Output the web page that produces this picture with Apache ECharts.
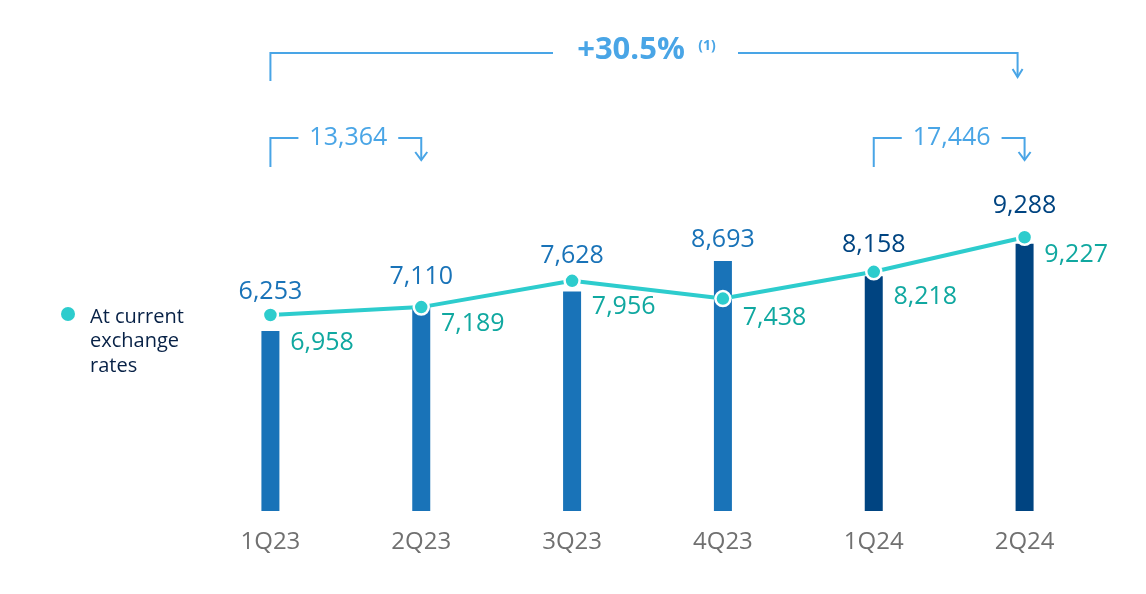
<!DOCTYPE html>
<html>
<head>
<meta charset="utf-8">
<script src="https://cdn.jsdelivr.net/npm/echarts@6/dist/echarts.min.js"></script>
<style>
  html, body { margin: 0; background: #fff; }
  #chart { width: 1146px; height: 594px; }
</style>
</head>
<body>
<div id="chart"></div>
<script>
// data
const quarters = ['1Q23', '2Q23', '3Q23', '4Q23', '1Q24', '2Q24'];
const constantFx = [6253, 7110, 7628, 8693, 8158, 9288];
const currentFx = [6958, 7189, 7956, 7438, 8218, 9227];
const halfYearTotals = ['13,364', '17,446'];
const growthText = '+30.5%';
const noteMark = '(1)';
const legendText = 'At current\nexchange\nrates';

// styling
const blue2023 = '#1973B8';
const navy2024 = '#004481';
const aqua = '#2DCCCD';
const aquaText = '#10A8A0';
const bracketBlue = '#49A5E6';
const labelGap = [27, 17, 23, 9, 19, 25];     // keeps bar labels clear of the line dots
const lineLabelDy = [28, 17, 26, 19, 25, 18]; // vertical shift of the line labels

const fmt = v => v.toLocaleString('en-US');
const chart = echarts.init(document.getElementById('chart'));

const option = {
  animation: false,
  textStyle: { fontFamily: '"Open Sans", sans-serif' },
  grid: { left: 195, right: 46, top: 100, bottom: 83 },
  xAxis: {
    type: 'category',
    data: quarters,
    axisLine: { show: false },
    axisTick: { show: false },
    axisLabel: { color: '#707070', fontSize: 24, margin: 19 }
  },
  yAxis: [
    { type: 'value', min: 0, max: 14286, show: false, splitLine: { show: false } },
    { type: 'value', min: 1245, max: 13227, show: false, splitLine: { show: false } }
  ],
  series: [
    {
      type: 'bar',
      barWidth: 18,
      data: constantFx.map((v, i) => ({
        value: v,
        itemStyle: { color: quarters[i].endsWith('24') ? navy2024 : blue2023 },
        label: {
          show: true,
          position: 'top',
          distance: labelGap[i],
          color: quarters[i].endsWith('24') ? navy2024 : blue2023,
          fontSize: 25,
          formatter: p => fmt(p.value)
        }
      }))
    },
    {
      name: 'At current exchange rates',
      type: 'line',
      yAxisIndex: 1,
      data: currentFx.map((v, i) => ({
        value: v,
        label: { offset: [6, lineLabelDy[i]] }
      })),
      symbol: 'circle',
      symbolSize: 15,
      lineStyle: { color: aqua, width: 4 },
      itemStyle: { color: aqua, borderColor: '#fff', borderWidth: 2.5 },
      label: {
        show: true,
        position: 'right',
        color: aquaText,
        fontSize: 25,
        formatter: p => fmt(p.value)
      },
      z: 5
    }
  ]
};
chart.setOption(option);

// annotation brackets, placed from the category positions
const xs = quarters.map(q => chart.convertToPixel({ xAxisIndex: 0 }, q));
const line = (pts) => ({
  type: 'polyline',
  shape: { points: pts },
  style: { stroke: bracketBlue, lineWidth: 2, fill: null }
});
const txt = (x, y, text, size, weight) => ({
  type: 'text',
  x: x, y: y,
  style: {
    text: text, fill: bracketBlue, fontSize: size, fontWeight: weight,
    fontFamily: '"Open Sans", sans-serif',
    textAlign: 'center', textVerticalAlign: 'middle'
  }
});
const bracket = (a, b, label) => {
  const y = 138;
  return [
    line([[a, 167], [a, y], [a + 28, y]]),
    line([[b - 23, y], [b, y], [b, 160]]),
    line([[b - 6, 152], [b, 160], [b + 6, 152]]),
    txt((a + 28 + b - 23) / 2, y, label, 25, 'normal')
  ];
};
const topY = 53;
const topR = xs[5] - 7;
const graphics = [
  line([[xs[0], 81], [xs[0], topY], [553, topY]]),
  line([[738, topY], [topR, topY], [topR, 77]]),
  line([[topR - 5, 69], [topR, 77], [topR + 5, 69]]),
  txt(631, 50, growthText, 31, 'bold'),
  txt(707, 46, noteMark, 14, 'bold'),
  ...bracket(xs[0], xs[1], halfYearTotals[0]),
  ...bracket(xs[4], xs[5], halfYearTotals[1]),
  { type: 'circle', shape: { cx: 68, cy: 314, r: 7 }, style: { fill: aqua } },
  {
    type: 'text', x: 90, y: 305,
    style: {
      text: legendText, fill: '#072146', fontSize: 20, lineHeight: 24.5,
      fontFamily: '"Open Sans", sans-serif', textVerticalAlign: 'top'
    }
  }
];
chart.setOption({ graphic: graphics });
</script>
</body>
</html>
